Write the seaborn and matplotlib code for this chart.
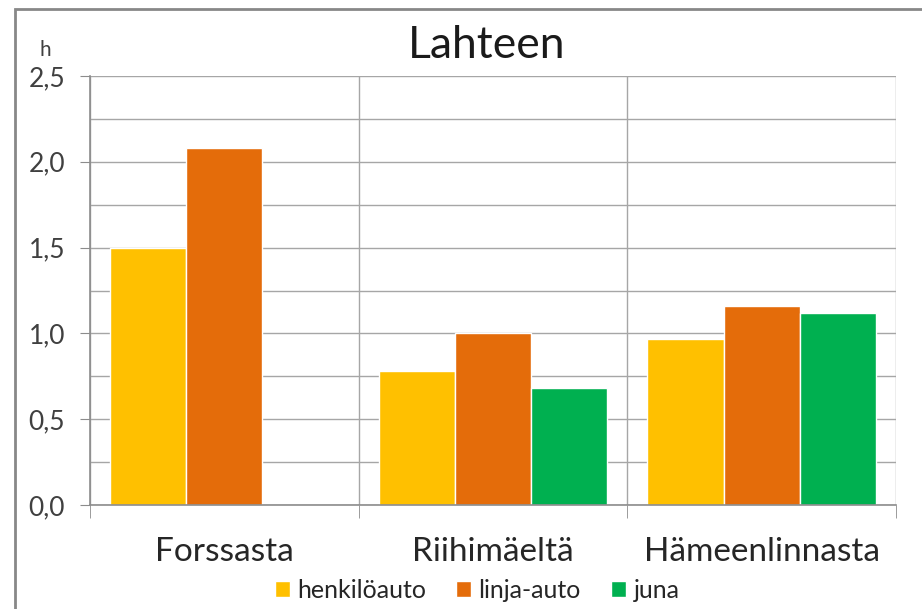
import seaborn as sns
import numpy as np
import matplotlib.pyplot as plt
import pandas as pd
from matplotlib.patches import Rectangle, Patch
from matplotlib.ticker import MultipleLocator, FuncFormatter

# matka-ajat tunteina
kaupungit = ["Forssasta", "Riihimäeltä", "Hämeenlinnasta"]
kulkuneuvot = ["henkilöauto", "linja-auto", "juna"]
henkiloauto = [1.50, 0.78, 0.97]
linja_auto = [2.08, 1.00, 1.16]
juna = [np.nan, 0.68, 1.12]
varit = ["#FFC000", "#E46C0A", "#00B050"]

df = pd.DataFrame({
    "kaupunki": kaupungit * 3,
    "kulkuneuvo": [k for k in kulkuneuvot for _ in kaupungit],
    "h": henkiloauto + linja_auto + juna,
})

sns.set_style("white")
plt.rcParams["font.family"] = ["Lato", "DejaVu Sans"]

fig = plt.figure(figsize=(9.22, 6.09), dpi=100)
ax = fig.add_axes([90/922, 1-505/609, (896-90)/922, (505-76)/609])

sns.barplot(data=df, x="kaupunki", y="h", hue="kulkuneuvo", order=kaupungit,
            hue_order=kulkuneuvot, palette=varit, width=0.85, saturation=1,
            edgecolor="white", linewidth=1, legend=False, ax=ax)

gray = "#A6A6A6"
ax.set_xlim(-0.5, 2.5)
ax.set_ylim(0, 2.5)
ax.yaxis.set_major_locator(MultipleLocator(0.5))
ax.yaxis.set_minor_locator(MultipleLocator(0.25))
ax.yaxis.set_major_formatter(FuncFormatter(lambda v, p: f"{v:.1f}".replace(".", ",")))
ax.set_xticks([-0.5, 0.5, 1.5, 2.5], minor=True)
ax.set_axisbelow(True)
ax.grid(True, axis="y", which="both", color=gray, lw=1)
ax.grid(True, axis="x", which="minor", color=gray, lw=1)
ax.grid(False, axis="x", which="major")
for s in ["top", "right"]:
    ax.spines[s].set_visible(False)
for s in ["left", "bottom"]:
    ax.spines[s].set_color("#8C8C8C")
    ax.spines[s].set_linewidth(1.2)

ax.tick_params(axis="y", which="major", direction="out", length=7, color="#8C8C8C",
               left=True, pad=11, labelsize=19, labelcolor="#404040")
ax.tick_params(axis="y", which="minor", length=0)
ax.tick_params(axis="x", which="minor", direction="out", length=9, color="#8C8C8C", bottom=True)
ax.tick_params(axis="x", which="major", length=0, pad=23, labelsize=24, labelcolor="#262626")
ax.set_xlabel("")
ax.set_ylabel("")

fig.text(0.528, 1-45/609, "Lahteen", ha="center", va="center", fontsize=32, color="#1a1a1a")
fig.text(45/922, 1-50/609, "h", ha="center", va="center", fontsize=15, color="#404040")

handles = [Patch(facecolor=c, edgecolor="white") for c in varit]
fig.legend(handles, kulkuneuvot, loc="center", bbox_to_anchor=(477/922, 1-590/609), ncol=3,
           frameon=False, fontsize=18, handlelength=0.6, handleheight=0.6,
           handletextpad=0.3, columnspacing=1.2, labelcolor="#262626")

fig.patches.append(Rectangle((15/922, -0.5), 1.0, 1.5 - 9/609, transform=fig.transFigure,
                             fill=False, edgecolor="#888888", lw=2, figure=fig))

fig.savefig("out.png", dpi=100)
